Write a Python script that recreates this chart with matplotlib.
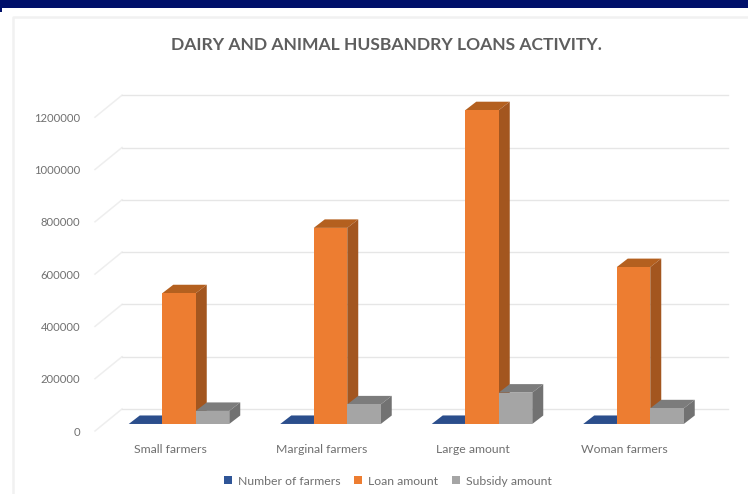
import matplotlib
matplotlib.use("Agg")
import matplotlib.pyplot as plt
import numpy as np
from matplotlib.patches import Polygon, Rectangle, Patch
from matplotlib.transforms import Affine2D

categories = ["Small farmers", "Marginal farmers", "Large amount", "Woman farmers"]
number_of_farmers = [100, 150, 200, 120]
loan_amount = [500000, 750000, 1200000, 600000]
subsidy_amount = [50000, 75000, 120000, 60000]
y_ticks = [0, 200000, 400000, 600000, 800000, 1000000, 1200000]

series_names = ["Number of farmers", "Loan amount", "Subsidy amount"]
face_colors = ["#2F5597", "#ED7D31", "#A5A5A5"]
side_colors = ["#203A68", "#A3561F", "#727272"]
top_colors = ["#2B4E8C", "#B4601F", "#7C7C7C"]

W, H = 748, 494
PX_PER_CAT = 151.5
PX_PER_VAL = 52.3 / 200000
X0_PX, Y0_PX = 179.0, 424.0   # pixel position of category 0, value 0
LABEL_SIZE = 8.8
LABEL_COLOR = "#707070"

plt.rcParams["font.family"] = ["Lato", "DejaVu Sans"]
fig = plt.figure(figsize=(W / 100, H / 100), dpi=100, facecolor="white")

# axes spanning the whole canvas, scaled so bars land on the floor line
ax = fig.add_axes([0, 0, 1, 1])
ax.set_xlim(-X0_PX / PX_PER_CAT, (W - X0_PX) / PX_PER_CAT)
ax.set_ylim(-(H - Y0_PX) / PX_PER_VAL, Y0_PX / PX_PER_VAL)
ax.patch.set_alpha(0)
for s in ax.spines.values():
    s.set_visible(False)
ax.tick_params(length=0)

ux = 1 / PX_PER_CAT
uy = 1 / PX_PER_VAL

# header band and the chart frame's top and left edges
ax.add_patch(Rectangle((0, 1), 1, -8 / H, transform=ax.transAxes, color="#00106A", lw=0, zorder=0))
ax.add_patch(Rectangle((0, 1 - 12 / H), 2 / W, 4 / H, transform=ax.transAxes, color="#00106A", lw=0, zorder=0))
ax.plot([13 / W, 13 / W, 1], [0, 1 - 17 / H, 1 - 17 / H], transform=ax.transAxes,
        color="#F1F1F1", lw=1.8, zorder=0)

# value grid: a short slanted stroke on the side wall, then the back wall line
x_origin = -X0_PX / PX_PER_CAT
for v in y_ticks:
    xs = [x_origin + 95 * ux, x_origin + 122 * ux]
    ys = [v - 7 * uy, v + 15 * uy]
    ax.plot(xs, ys, color="#EEEEEE", lw=1.1, zorder=1)
    ax.plot([x_origin + 122 * ux, x_origin + 728 * ux], [v + 15 * uy, v + 15 * uy],
            color="#E6E6E6", lw=1.0, zorder=1)

bar_w = 33.5 / PX_PER_CAT
dx, dy = 11 * ux, 8.5 * uy
positions = np.arange(len(categories))
all_values = [number_of_farmers, loan_amount, subsidy_amount]

# within a category each bar is painted over the side of the one on its left
for idx, xc in enumerate(positions):
    for j, values in enumerate(all_values):
        v = values[idx]
        left = xc + (j - 1) * bar_w - bar_w / 2
        right = left + bar_w
        z = 3 + idx + j * 0.1
        ax.add_patch(Polygon([(left, v), (right, v), (right + dx, v + dy), (left + dx, v + dy)],
                             closed=True, fc=top_colors[j], ec="none", zorder=z))
        ax.add_patch(Polygon([(right, 0), (right + dx, dy), (right + dx, v + dy), (right, v)],
                             closed=True, fc=side_colors[j], ec="none", zorder=z))
        ax.bar(left, v, width=bar_w, align="edge", color=face_colors[j], zorder=z + 0.01)

# tick labels sit in front of the floor, left of the slanted strokes
ax.set_yticks(y_ticks)
ax.set_yticklabels([str(v) for v in y_ticks], fontsize=8.1, color=LABEL_COLOR)
ax.tick_params(axis="y", direction="in", pad=-57.6)
for lab in ax.get_yticklabels():
    lab.set_transform(lab.get_transform() + Affine2D().translate(0, -7))
    lab.set_ha("right")

ax.set_xticks(positions)
ax.set_xticklabels(categories, fontsize=LABEL_SIZE, color=LABEL_COLOR)
ax.tick_params(axis="x", direction="in", pad=0)
for lab in ax.get_xticklabels():
    lab.set_transform(lab.get_transform() + Affine2D().translate(-9, H - 449))
    lab.set_va("center")

fig.text(386.5 / W, 1 - 45 / H, "DAIRY AND ANIMAL HUSBANDRY LOANS ACTIVITY.", ha="center", va="center",
         fontsize=12.6, fontweight="bold", color="#5E5E5E")

handles = [Patch(fc=c, ec="none") for c in face_colors]
fig.legend(handles, series_names, loc="center", bbox_to_anchor=(388 / W, 1 - 481 / H), ncol=3,
           frameon=False, fontsize=LABEL_SIZE, labelcolor=LABEL_COLOR, handlelength=0.65, handleheight=0.65,
           handletextpad=0.5, columnspacing=1.1)

fig.savefig("out.png", dpi=100)
